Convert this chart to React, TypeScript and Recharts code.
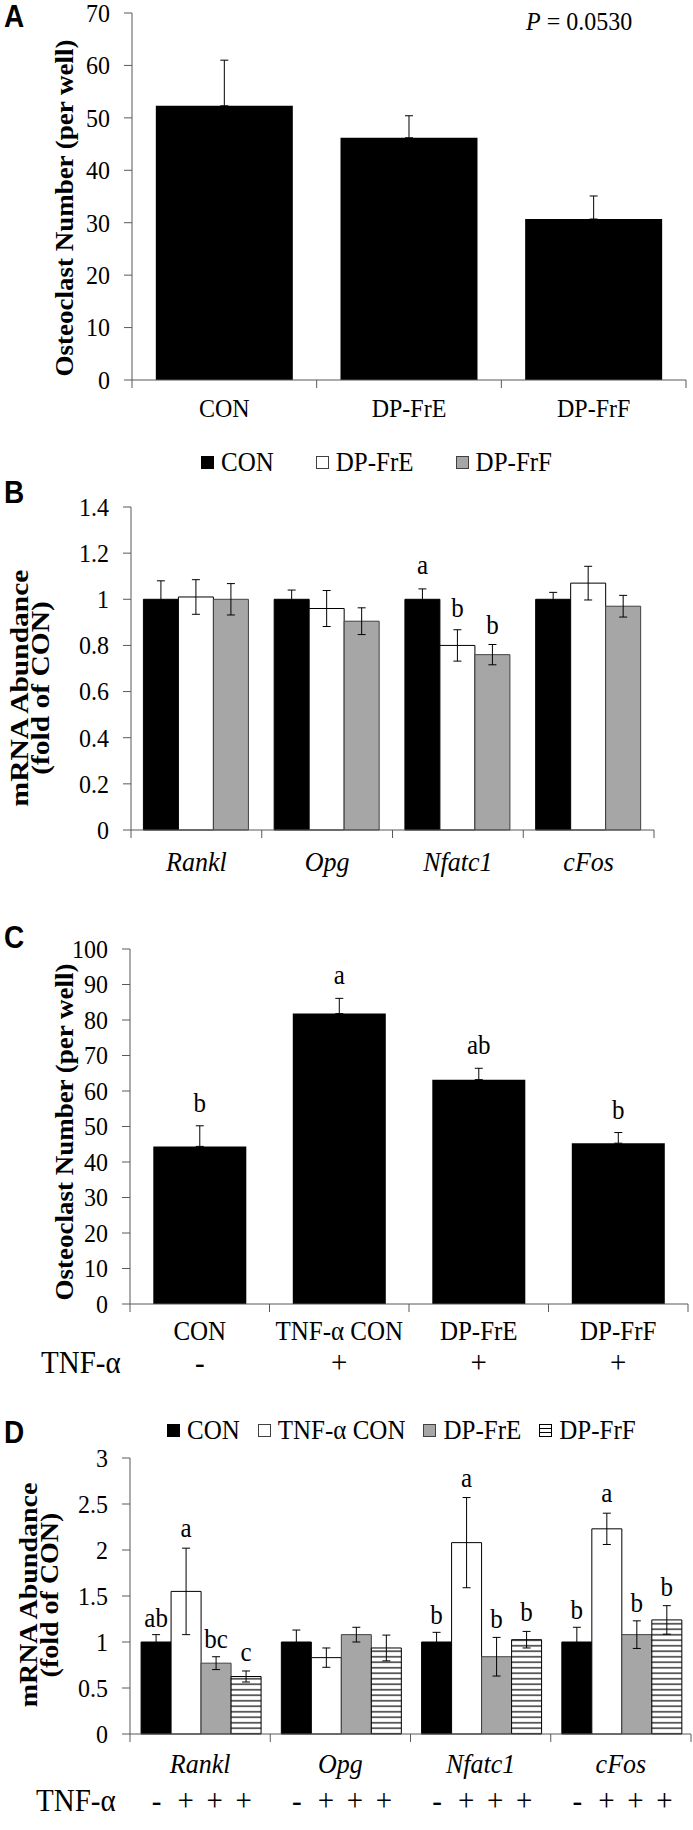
import React from 'react'
import { BarChart, Bar, XAxis, YAxis, ErrorBar, LabelList, Legend } from 'recharts'

const SERIF = '"Liberation Serif", "Times New Roman", Times, serif'
const SANS = '"Liberation Sans", Arial, Helvetica, sans-serif'
const AXIS = '#595959'
const GRAY = '#a6a6a6'
const SY = 1.09 // the source figure is stretched a little vertically

// ---- panel A
const catsA = ['CON', 'DP-FrE', 'DP-FrF']
const valsA = [52.3, 46.2, 30.7]
const errA = [8.7, 4.2, 4.4]
const ticksA = [0, 10, 20, 30, 40, 50, 60, 70]

// ---- panel B
const genes = ['Rankl', 'Opg', 'Nfatc1', 'cFos']
const conB = [1, 1, 1, 1]
const conErrB = [0.08, 0.04, 0.045, 0.03]
const freB = [1.01, 0.96, 0.8, 1.07]
const freErrB = [0.075, 0.078, 0.068, 0.073]
const frfB = [1.0, 0.905, 0.76, 0.97]
const frfErrB = [0.068, 0.058, 0.044, 0.047]
const conLetB = ['', '', 'a', '']
const freLetB = ['', '', 'b', '']
const frfLetB = ['', '', 'b', '']
const ticksB = [0, 0.2, 0.4, 0.6, 0.8, 1, 1.2, 1.4]

// ---- panel C
const catsC = ['CON', 'TNF-α CON', 'DP-FrE', 'DP-FrF']
const tnfC = ['-', '+', '+', '+']
const valsC = [44.4, 81.8, 63.2, 45.3]
const errC = [5.8, 4.3, 3.2, 3.0]
const letC = ['b', 'a', 'ab', 'b']
const ticksC = [0, 10, 20, 30, 40, 50, 60, 70, 80, 90, 100]

// ---- panel D
const conD = [1, 1, 1, 1]
const conErrD = [0.08, 0.13, 0.105, 0.16]
const tnfD = [1.55, 0.83, 2.08, 2.23]
const tnfErrD = [0.47, 0.105, 0.49, 0.17]
const freD = [0.77, 1.08, 0.84, 1.08]
const freErrD = [0.07, 0.08, 0.21, 0.15]
const frfD = [0.625, 0.935, 1.025, 1.24]
const frfErrD = [0.06, 0.14, 0.09, 0.155]
const conLetD = ['ab', '', 'b', 'b']
const tnfLetD = ['a', '', 'a', 'a']
const freLetD = ['bc', '', 'b', 'b']
const frfLetD = ['c', '', 'b', 'b']
const signsD = ['-', '+', '+', '+']
const ticksD = [0, 0.5, 1, 1.5, 2, 2.5, 3]

const dataA = catsA.map((name, i) => ({ name, value: valsA[i], err: [0, errA[i]] }))
const dataB = genes.map((name, i) => ({
  name,
  con: conB[i], conErr: conErrB[i], conLet: conLetB[i],
  fre: freB[i], freErr: freErrB[i], freLet: freLetB[i],
  frf: frfB[i], frfErr: frfErrB[i], frfLet: frfLetB[i],
}))
const dataC = catsC.map((name, i) => ({ name, value: valsC[i], err: [0, errC[i]], let: letC[i] }))
const dataD = genes.map((name, i) => ({
  name,
  con: conD[i], conErr: conErrD[i], conLet: conLetD[i],
  tnf: tnfD[i], tnfErr: tnfErrD[i], tnfLet: tnfLetD[i],
  fre: freD[i], freErr: freErrD[i], freLet: freLetD[i],
  frf: frfD[i], frfErr: frfErrD[i], frfLet: frfLetD[i],
}))

// text drawn with its baseline at (x, y), stretched vertically like the source
function T({ x, y, size = 24, anchor = 'middle', italic, bold, family = SERIF, dy, children }: any) {
  return (
    <text transform={`translate(${x} ${y}) scale(1 ${SY})`} textAnchor={anchor} dy={dy}
      fontFamily={family} fontSize={size} fontStyle={italic ? 'italic' : 'normal'} fontWeight={bold ? 700 : 400} fill="#000">
      {children}
    </text>
  )
}

function YTick({ x, y, payload }: any) {
  return <T x={x} y={y} anchor="end" dy="0.34em">{payload.value}</T>
}

function CategoryTick({ x, y, payload, index, band, count, italic, size, labelDy, signs, signDy, signOffsets }: any) {
  const i = payload?.index ?? index ?? 0
  return (
    <g>
      <line x1={x - band / 2} x2={x - band / 2} y1={y} y2={y + 8} stroke={AXIS} />
      {i === count - 1 && <line x1={x + band / 2} x2={x + band / 2} y1={y} y2={y + 8} stroke={AXIS} />}
      <T x={x} y={y + labelDy} size={size} italic={italic}>{payload.value}</T>
      {signs &&
        signOffsets.map((o: number, k: number) => (
          <T key={k} x={x + o} y={y + signDy} size={29}>{signs[i][k]}</T>
        ))}
    </g>
  )
}

// letter above the error bar; pixel scale comes from the bar's own height
function letterContent(letters: string[], vals: number[], errs: number[], gap: number) {
  return (p: any) => {
    const i = p.index
    const t = letters[i]
    if (!t) return null
    const vb = p.viewBox || p
    const x = Number(vb.x) + Number(vb.width) / 2
    const h = Number(vb.height)
    const yErr = Number(vb.y) - (errs[i] / vals[i]) * h
    return <T x={x} y={yErr - gap} size={25}>{t}</T>
  }
}

function Swatch({ kind }: { kind: string }) {
  return (
    <svg width={13} height={13} style={{ display: 'block' }}>
      {kind === 'hatch' && (
        <>
          <rect x={0.5} y={0.5} width={12} height={12} fill="#fff" stroke="#000" />
          <line x1={0} x2={13} y1={4.5} y2={4.5} stroke="#000" />
          <line x1={0} x2={13} y1={8.5} y2={8.5} stroke="#000" />
        </>
      )}
      {kind !== 'hatch' && (
        <rect x={0.5} y={0.5} width={12} height={12} fill={kind} stroke={kind === '#000' ? '#000' : '#404040'} />
      )}
    </svg>
  )
}

function LegendRow({ items, left, gap }: { items: { label: string; kind: string }[]; left: number; gap: number }) {
  return (
    <div style={{ display: 'flex', alignItems: 'center', paddingLeft: left, fontFamily: SERIF, fontSize: 25, lineHeight: '28px', color: '#000' }}>
      {items.map((it) => (
        <div key={it.label} style={{ display: 'flex', alignItems: 'center', marginRight: gap }}>
          <Swatch kind={it.kind} />
          <span style={{ marginLeft: 7, whiteSpace: 'nowrap', display: 'inline-block', transform: `scaleY(${SY})` }}>{it.label}</span>
        </div>
      ))}
    </div>
  )
}

const yAxisProps = {
  width: 60,
  tickSize: 8,
  tickMargin: 14,
  interval: 0 as const,
  axisLine: { stroke: AXIS },
  tickLine: { stroke: AXIS },
  tick: <YTick />,
}

const errProps = { stroke: '#000', strokeWidth: 1, width: 4, isAnimationActive: false }

const bandA = (686 - 132) / 3
const bandB = (654 - 131) / 4
const bandC = (688 - 130) / 4
const bandD = (691 - 130) / 4
const gapD = 0.079
const barD = Math.floor((bandD * (1 - 2 * gapD)) / 4)
const offsetsD = [-1.5, -0.5, 0.5, 1.5].map((k) => k * barD)

function PanelA() {
  return (
    <BarChart width={693} height={440} data={dataA} margin={{ top: 13, right: 7, bottom: 10, left: 72 }} barCategoryGap="12.9%">
      <XAxis dataKey="name" interval={0} height={50} tickSize={0} tickMargin={0} axisLine={{ stroke: AXIS }} tickLine={false}
        tick={<CategoryTick band={bandA} count={3} size={24} labelDy={37} />} />
      <YAxis domain={[0, 70]} ticks={ticksA} {...yAxisProps} />
      <Bar dataKey="value" fill="#000" isAnimationActive={false}>
        <ErrorBar dataKey="err" {...errProps} />
      </Bar>
    </BarChart>
  )
}

function PanelB() {
  return (
    <BarChart width={693} height={470} data={dataB} margin={{ top: 77, right: 39, bottom: 20, left: 71 }} barCategoryGap="9.5%" barGap={0}>
      <Legend verticalAlign="middle" layout="horizontal" wrapperStyle={{ top: 18, left: 0, width: 693 }}
        content={() => (
          <LegendRow left={201} gap={42} items={[
            { label: 'CON', kind: '#000' },
            { label: 'DP-FrE', kind: '#fff' },
            { label: 'DP-FrF', kind: GRAY },
          ]} />
        )} />
      <XAxis dataKey="name" interval={0} height={50} tickSize={0} tickMargin={0} axisLine={{ stroke: AXIS }} tickLine={false}
        tick={<CategoryTick band={bandB} count={4} size={26} labelDy={41} italic />} />
      <YAxis domain={[0, 1.4]} ticks={ticksB} {...yAxisProps} />
      <Bar dataKey="con" fill="#000" stroke="#000" isAnimationActive={false}>
        <ErrorBar dataKey="conErr" {...errProps} />
        <LabelList dataKey="conLet" content={letterContent(conLetB, conB, conErrB, 15)} />
      </Bar>
      <Bar dataKey="fre" fill="#fff" stroke="#000" isAnimationActive={false}>
        <ErrorBar dataKey="freErr" {...errProps} />
        <LabelList dataKey="freLet" content={letterContent(freLetB, freB, freErrB, 13)} />
      </Bar>
      <Bar dataKey="frf" fill={GRAY} stroke="#404040" isAnimationActive={false}>
        <ErrorBar dataKey="frfErr" {...errProps} />
        <LabelList dataKey="frfLet" content={letterContent(frfLetB, frfB, frfErrB, 11)} />
      </Bar>
    </BarChart>
  )
}

function PanelC() {
  return (
    <BarChart width={693} height={490} data={dataC} margin={{ top: 49, right: 5, bottom: 36, left: 70 }} barCategoryGap="16.7%">
      <XAxis dataKey="name" interval={0} height={50} tickSize={0} tickMargin={0} axisLine={{ stroke: AXIS }} tickLine={false}
        tick={<CategoryTick band={bandC} count={4} size={25} labelDy={36} signs={tnfC.map((s) => [s])} signDy={69} signOffsets={[0]} />} />
      <YAxis domain={[0, 100]} ticks={ticksC} {...yAxisProps} />
      <Bar dataKey="value" fill="#000" isAnimationActive={false}>
        <ErrorBar dataKey="err" {...errProps} />
        <LabelList dataKey="let" content={letterContent(letC, valsC, errC, 14)} />
      </Bar>
    </BarChart>
  )
}

function PanelD() {
  return (
    <BarChart width={693} height={440} data={dataD} margin={{ top: 68, right: 2, bottom: 46, left: 70 }} barCategoryGap={`${gapD * 100}%`} barGap={0}>
      <defs>
        <pattern id="hatchD" patternUnits="userSpaceOnUse" width={8} height={5.5}>
          <rect width={8} height={5.5} fill="#fff" />
          <line x1={0} x2={8} y1={2.75} y2={2.75} stroke="#000" strokeWidth={1.2} />
        </pattern>
      </defs>
      <Legend verticalAlign="middle" layout="horizontal" wrapperStyle={{ top: 26, left: 0, width: 693 }}
        content={() => (
          <LegendRow left={167} gap={18} items={[
            { label: 'CON', kind: '#000' },
            { label: 'TNF-α CON', kind: '#fff' },
            { label: 'DP-FrE', kind: GRAY },
            { label: 'DP-FrF', kind: 'hatch' },
          ]} />
        )} />
      <XAxis dataKey="name" interval={0} height={50} tickSize={0} tickMargin={0} axisLine={{ stroke: AXIS }} tickLine={false}
        tick={<CategoryTick band={bandD} count={4} size={26} labelDy={39} italic signs={genes.map(() => signsD)} signDy={77} signOffsets={offsetsD} />} />
      <YAxis domain={[0, 3]} ticks={ticksD} {...yAxisProps} />
      <Bar dataKey="con" fill="#000" stroke="#000" isAnimationActive={false}>
        <ErrorBar dataKey="conErr" {...errProps} />
        <LabelList dataKey="conLet" content={letterContent(conLetD, conD, conErrD, 8)} />
      </Bar>
      <Bar dataKey="tnf" fill="#fff" stroke="#000" isAnimationActive={false}>
        <ErrorBar dataKey="tnfErr" {...errProps} />
        <LabelList dataKey="tnfLet" content={letterContent(tnfLetD, tnfD, tnfErrD, 11)} />
      </Bar>
      <Bar dataKey="fre" fill={GRAY} stroke="#404040" isAnimationActive={false}>
        <ErrorBar dataKey="freErr" {...errProps} />
        <LabelList dataKey="freLet" content={letterContent(freLetD, freD, freErrD, 9)} />
      </Bar>
      <Bar dataKey="frf" fill="url(#hatchD)" stroke="#000" isAnimationActive={false}>
        <ErrorBar dataKey="frfErr" {...errProps} />
        <LabelList dataKey="frfLet" content={letterContent(frfLetD, frfD, frfErrD, 10)} />
      </Bar>
    </BarChart>
  )
}

// rotated bold axis title; k stretches it along its length
function Title({ x, y, k, children }: any) {
  return (
    <text transform={`translate(${x} ${y}) rotate(-90) scale(${k} 1)`} textAnchor="middle"
      fontFamily={SERIF} fontSize={25} fontWeight={700} fill="#000">
      {children}
    </text>
  )
}

function Overlay() {
  return (
    <svg width={693} height={1830} style={{ position: 'absolute', left: 0, top: 0, pointerEvents: 'none' }}>
      <T x={4} y={27} size={28} bold family={SANS} anchor="start">A</T>
      <T x={4} y={503} size={28} bold family={SANS} anchor="start">B</T>
      <T x={4} y={948} size={28} bold family={SANS} anchor="start">C</T>
      <T x={4} y={1443} size={28} bold family={SANS} anchor="start">D</T>

      <Title x={73} y={208} k={1.08}>Osteoclast Number (per well)</Title>
      <Title x={73} y={1132} k={1.08}>Osteoclast Number (per well)</Title>
      <Title x={28} y={688} k={1.18}>mRNA Abundance</Title>
      <Title x={49} y={688} k={1.18}>(fold of CON)</Title>
      <Title x={37} y={1595} k={1.12}>mRNA Abundance</Title>
      <Title x={58} y={1595} k={1.12}>(fold of CON)</Title>

      <T x={526} y={30} anchor="start">
        <tspan fontStyle="italic">P</tspan> = 0.0530
      </T>
      <T x={41} y={1373} size={29} anchor="start">TNF-α</T>
      <T x={36} y={1811} size={29} anchor="start">TNF-α</T>
    </svg>
  )
}

export default function App() {
  return (
    <div style={{ position: 'absolute', left: 0, top: 0, width: 693, height: 1830, background: '#fff', overflow: 'hidden' }}>
      <div style={{ position: 'absolute', left: 0, top: 0 }}><PanelA /></div>
      <div style={{ position: 'absolute', left: 0, top: 430 }}><PanelB /></div>
      <div style={{ position: 'absolute', left: 0, top: 900 }}><PanelC /></div>
      <div style={{ position: 'absolute', left: 0, top: 1390 }}><PanelD /></div>
      <Overlay />
    </div>
  )
}
